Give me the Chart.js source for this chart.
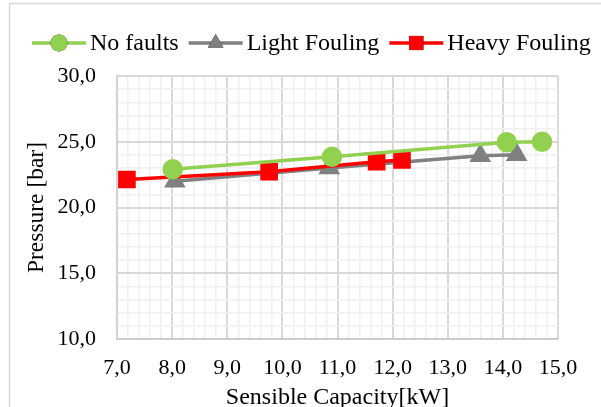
<!DOCTYPE html>
<html>
<head>
<meta charset="utf-8">
<script src="https://cdn.jsdelivr.net/npm/chart.js@4"></script>
<style>
  html, body { margin: 0; padding: 0; background: #fff; }
  #wrap { width: 601px; height: 407px; position: relative; }
</style>
</head>
<body>
<div id="wrap"><canvas id="pressureChart" width="601" height="407"></canvas></div>
<script>
const seriesNames = ["No faults", "Light Fouling", "Heavy Fouling"];

const noFaultsCapacity = [8.01, 10.9, 14.07, 14.71];
const noFaultsPressure = [22.9, 23.86, 24.97, 25.0];

const lightCapacity = [8.05, 10.85, 13.59, 14.25];
const lightPressure = [22.0, 23.0, 23.94, 24.02];

const heavyCapacity = [7.18, 9.76, 11.71, 12.17];
const heavyPressure = [22.13, 22.72, 23.48, 23.62];

const xTitle = "Sensible Capacity[kW]";
const yTitle = "Pressure [bar]";

const FONT = "'Liberation Serif', 'Times New Roman', serif";

function toPoints(xs, ys) {
  return xs.map((x, i) => ({ x: x, y: ys[i] }));
}

function fmt(v) {
  return v.toFixed(1).replace(".", ",");
}

function isWhole(v, step) {
  const r = v / step;
  return Math.abs(r - Math.round(r)) < 1e-6;
}

// frame + legend drawn by hand (line with marker in the middle)
const legendPlugin = {
  id: "lineLegend",
  beforeDraw(chart) {
    const ctx = chart.ctx;
    ctx.save();
    ctx.strokeStyle = "#d9d9d9";
    ctx.lineWidth = 1.5;
    ctx.strokeRect(9.5, 3.5, 700, 500);
    ctx.restore();
  },
  afterDraw(chart) {
    const ctx = chart.ctx;
    const y = 43;
    let x = 32;
    ctx.save();
    ctx.font = "24px " + FONT;
    ctx.textBaseline = "middle";
    chart.data.datasets.forEach((ds) => {
      ctx.strokeStyle = ds.borderColor;
      ctx.lineWidth = ds.borderWidth;
      ctx.beginPath();
      ctx.moveTo(x, y);
      ctx.lineTo(x + 54, y);
      ctx.stroke();
      Chart.helpers.drawPoint(ctx, {
        pointStyle: ds.pointStyle,
        radius: ds.pointRadius,
        borderWidth: 0,
      }, x + 27, y);
      ctx.fillStyle = ds.pointBackgroundColor;
      ctx.fill();
      ctx.fillStyle = "#000";
      ctx.fillText(ds.label, x + 58, y + 1);
      x += 58 + ctx.measureText(ds.label).width + 10;
    });
    ctx.restore();
  },
};

const ctx = document.getElementById("pressureChart").getContext("2d");
new Chart(ctx, {
  type: "line",
  data: {
    datasets: [
      {
        label: seriesNames[0],
        data: toPoints(noFaultsCapacity, noFaultsPressure),
        borderColor: "#92d050",
        backgroundColor: "#92d050",
        pointBackgroundColor: "#92d050",
        pointBorderColor: "#92d050",
        borderWidth: 3.5,
        pointStyle: "circle",
        pointRadius: 8.5,
        order: 0,
      },
      {
        label: seriesNames[1],
        data: toPoints(lightCapacity, lightPressure),
        borderColor: "#808080",
        backgroundColor: "#808080",
        pointBackgroundColor: "#808080",
        pointBorderColor: "#808080",
        borderWidth: 3.5,
        pointStyle: "triangle",
        pointRadius: 9,
        order: 2,
      },
      {
        label: seriesNames[2],
        data: toPoints(heavyCapacity, heavyPressure),
        borderColor: "#ff0000",
        backgroundColor: "#ff0000",
        pointBackgroundColor: "#ff0000",
        pointBorderColor: "#ff0000",
        borderWidth: 3.5,
        pointStyle: "rect",
        pointRadius: 10,
        order: 1,
      },
    ],
  },
  options: {
    responsive: false,
    animation: false,
    events: [],
    layout: { padding: { top: 76, right: 43, left: 0, bottom: 0 } },
    elements: { line: { tension: 0 }, point: { borderWidth: 0 } },
    scales: {
      x: {
        type: "linear",
        min: 7,
        max: 15,
        afterFit: (scale) => { scale.height = 68; },
        ticks: {
          stepSize: 0.2,
          autoSkip: false,
          maxRotation: 0,
          padding: 16,
          color: "#000",
          font: { family: FONT, size: 22 },
          callback: (v) => (isWhole(v, 1) ? fmt(v) : ""),
        },
        grid: {
          drawTicks: false,
          color: (c) => (c.tick && isWhole(c.tick.value, 1) ? "#d9d9d9" : "#f0f0f0"),
          lineWidth: (c) => (c.tick && isWhole(c.tick.value, 1) ? 2 : 1.5),
        },
        border: { color: "#c8c8c8", width: 1.5 },
        title: {
          display: true,
          text: xTitle,
          align: "center",
          color: "#000",
          font: { family: FONT, size: 24, lineHeight: 0.78 },
          padding: { top: 0, bottom: 0 },
        },
      },
      y: {
        min: 10,
        max: 30,
        afterFit: (scale) => { scale.width = 117; },
        ticks: {
          stepSize: 1,
          autoSkip: false,
          padding: 21,
          color: "#000",
          font: { family: FONT, size: 22 },
          callback: (v) => (isWhole(v, 5) ? fmt(v) : ""),
        },
        grid: {
          drawTicks: false,
          color: (c) => (c.tick && isWhole(c.tick.value, 5) ? "#d9d9d9" : "#f0f0f0"),
          lineWidth: (c) => (c.tick && isWhole(c.tick.value, 5) ? 2 : 1.5),
        },
        border: { color: "#d0d0d0", width: 1.5 },
        title: {
          display: true,
          text: yTitle,
          color: "#000",
          font: { family: FONT, size: 23.5, lineHeight: 1.2 },
          padding: { top: 23, bottom: 0 },
        },
      },
    },
    plugins: {
      legend: { display: false },
      tooltip: { enabled: false },
    },
  },
  plugins: [legendPlugin],
});
</script>
</body>
</html>
